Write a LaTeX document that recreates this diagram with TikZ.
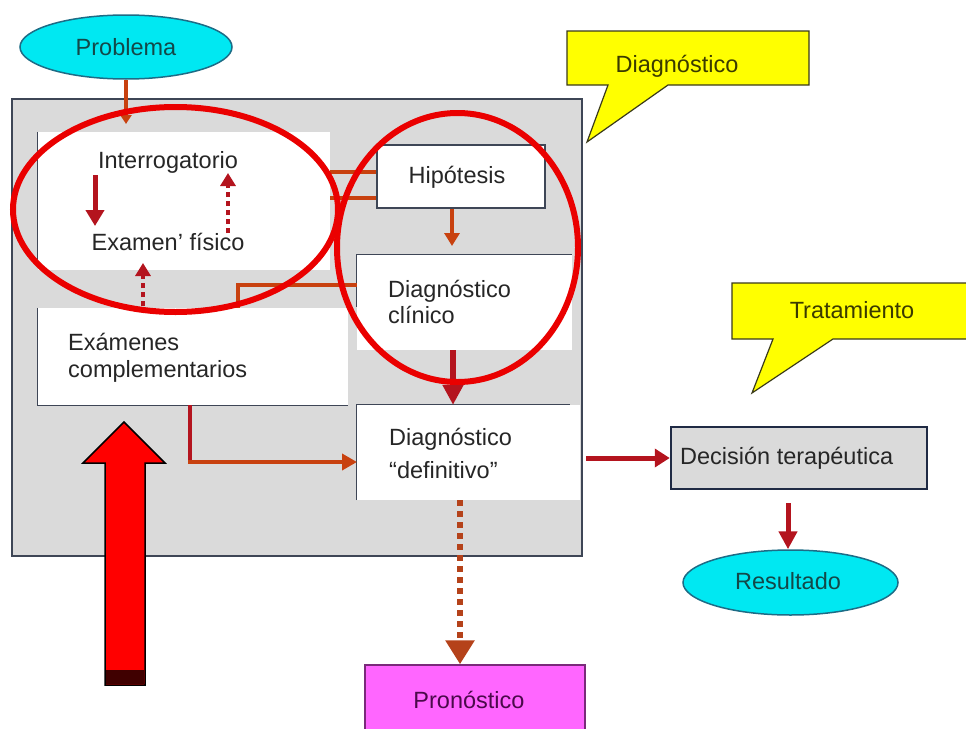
\documentclass[tikz,border=0pt]{standalone}
\usepackage{fontspec}
\setmainfont{Liberation Sans}
\usetikzlibrary{arrows.meta,shapes.geometric,calc}
\definecolor{bggray}{HTML}{DADADA}
\definecolor{bord}{HTML}{3E4656}
\definecolor{cdark}{HTML}{B4141E}
\definecolor{corange}{HTML}{C8410F}
\definecolor{cdot}{HTML}{B5421A}
\definecolor{hilite}{HTML}{EA0000}
\definecolor{cyanf}{HTML}{00E8F2}
\definecolor{cyanb}{HTML}{1D6C86}
\definecolor{cyantxt}{HTML}{134848}
\definecolor{yelf}{HTML}{FFFF00}
\definecolor{yelb}{HTML}{3A3A1A}
\definecolor{yeltxt}{HTML}{3A3A00}
\definecolor{magf}{HTML}{FF66FF}
\definecolor{magb}{HTML}{7A2A7A}
\definecolor{magtxt}{HTML}{4B0A4B}
\definecolor{txt}{HTML}{262626}
\definecolor{decb}{HTML}{1F2A44}
\begin{document}
\begin{tikzpicture}[x=1pt,y=-1pt,font=\fontsize{23.5}{27}\selectfont,
  lbl/.style={inner sep=0pt,text=txt},
  area/.style={inner sep=0pt,fill=white},
  edge/.style={draw=bord,line width=1.2pt},
  conn/.style={line width=#1},
  tipA/.style={-{Triangle[width=17pt,length=15pt]}},
  dots/.style={dash pattern=on 5pt off 4pt}
]
\useasboundingbox (0,0) rectangle (966,728);

% main gray frame
\node[draw=bord,fill=bggray,line width=1.2pt,minimum width=570pt,minimum height=457pt,inner sep=0pt] (main) at (297,327.5) {};

% white areas
\node[area,minimum width=292pt,minimum height=138pt] (ibox) at (184,201) {};
\node[area,minimum width=310pt,minimum height=97pt] (xbox) at (193,356.5) {};
\node[area,minimum width=215pt,minimum height=95pt] (cbox) at (464.5,302.5) {};
\node[area,minimum width=223pt,minimum height=95pt] (dbox) at (468.5,452.5) {};
\node[area,draw=bord,line width=1.5pt,minimum width=168pt,minimum height=63pt] (hip) at (461,176.5) {};

\draw[edge] (ibox.north west) -- ($(ibox.south west)+(0,-10)$);
\draw[edge] (xbox.north west) -- (xbox.south west) -- (xbox.south east);
\draw[edge] ($(cbox.north west)+(0,52)$) -- (cbox.north west) -- (cbox.north east);
\draw[edge] (dbox.south west) -- (dbox.north west) -- ($(dbox.north east)+(-10,0)$);

% texts in frame
\node[lbl,anchor=base] (interro) at (168,168) {Interrogatorio};
\node[lbl,anchor=base] (examen) at (168,250) {Examen' físico};
\node[lbl,anchor=base west,align=left] (examenes) at (68,350) {Exámenes};
\node[lbl,anchor=base west] (complem) at (68,377) {complementarios};
\node[lbl,anchor=base] (hiptxt) at (457,183) {Hipótesis};
\node[lbl,anchor=base west] (clin1) at (388,297) {Diagnóstico};
\node[lbl,anchor=base west] (clin2) at (388,323) {clínico};
\node[lbl,anchor=base west] (def1) at (389,445) {Diagnóstico};
\node[lbl,anchor=base west] (def2) at (389,478) {“definitivo”};

% outside shapes
\node[ellipse,draw=cyanb,fill=cyanf,line width=1.5pt,minimum width=212pt,minimum height=64pt,inner sep=0pt] (prob) at (126,47) {};
\node[lbl,anchor=base,text=cyantxt] (probtxt) at (126,55) {Problema};

\node[ellipse,draw=cyanb,fill=cyanf,line width=1.5pt,minimum width=215pt,minimum height=65pt,inner sep=0pt] (res) at (790.5,582.5) {};
\node[lbl,anchor=base,text=cyantxt] (restxt) at (788,589) {Resultado};

\node[draw=decb,fill=bggray,line width=2.5pt,minimum width=256pt,minimum height=62pt,inner sep=0pt] (dec) at (799,458) {};
\node[lbl,anchor=base west] (dectxt) at (680,464) {Decisión terapéutica};

\node[draw=magb,fill=magf,line width=1.5pt,minimum width=220pt,minimum height=70pt,inner sep=0pt] (pron) at (475,700) {};
\node[lbl,anchor=base,text=magtxt] (prontxt) at (469,708) {Pronóstico};

% callouts
\filldraw[fill=yelf,draw=yelb,line width=1.2pt] (567,31) -- (809,31) -- (809,85) -- (668,85) -- (587,142) -- (608,85) -- (567,85) -- cycle;
\node[lbl,anchor=base,text=yeltxt] (cdiag) at (677,72) {Diagnóstico};
\filldraw[fill=yelf,draw=yelb,line width=1.2pt] (732,283) -- (972,283) -- (972,339) -- (833,339) -- (752,393) -- (773,339) -- (732,339) -- cycle;
\node[lbl,anchor=base,text=yeltxt] (ctrat) at (852,318) {Tratamiento};

% connector end points
\coordinate (pin) at (126,124);
\coordinate (i1) at (95,175);
\coordinate (e1) at (95,226);
\coordinate (e2) at (228,233);
\coordinate (i2) at (228,173);
\coordinate (x1) at (143,306);
\coordinate (e3) at (143,263);
\coordinate (h1) at ($(hip.west)+(0,-5)$);
\coordinate (h2) at ($(hip.west)+(0,21)$);
\coordinate (ih1) at (330,172);
\coordinate (ih2) at (330,198);
\coordinate (cl) at (357,285);
\coordinate (xtop) at (238,308);
\coordinate (xb) at (190,405);
\coordinate (dl) at (357,462);
\coordinate (dbot) at (460,500);
\coordinate (dr) at (586,458);

% connectors
\draw[corange,line width=4pt,-{Triangle[width=11pt,length=9pt]}] (prob.south) -- (pin);
\draw[cdark,line width=5pt,-{Triangle[width=18pt,length=16pt]}] (i1) -- (e1);
\draw[cdark,line width=4pt,dots,-{Triangle[width=15pt,length=13pt]}] (e2) -- (i2);
\draw[cdark,line width=4pt,dots,-{Triangle[width=15pt,length=13pt]}] (x1) -- (e3);
\draw[corange,line width=4pt] (ih1) -- (ih1 -| hip.west);
\draw[corange,line width=4pt] (ih2) -- (ih2 -| hip.west);
\draw[corange,line width=4pt,-{Triangle[width=15pt,length=13pt]}] (hip.south -| 452,0) -- (452,246);
\draw[corange,line width=4pt] (cl) -- (cl -| xtop) -- (xtop);
\draw[cdark,line width=6pt,-{Triangle[width=20pt,length=20pt]}] (cbox.south -| 453,0) -- (dbox.north -| 453,0);
\draw[cdark,line width=4.5pt] (xb) -- (190,462);
\draw[corange,line width=4.5pt,-{Triangle[width=16pt,length=15pt]}] (188,462) -- (dl);
\draw[cdot,line width=6pt,dash pattern=on 6pt off 5pt,-{Triangle[width=28pt,length=24pt]}] (dbot) -- (pron.north -| dbot);
\draw[cdark,line width=5pt,-{Triangle[width=18pt,length=15pt]}] (dr) -- (dec.west);
\draw[cdark,line width=5pt,-{Triangle[width=18pt,length=18pt]}] (788,503) -- (res.north -| 788,0);

% big block arrow
\filldraw[fill=red,draw=black,line width=1.5pt,line join=miter] (105,685) -- (105,463) -- (83,463) -- (124,422) -- (165,463) -- (145,463) -- (145,685) -- cycle;
\fill[fill=black!75!red] (105.8,670) rectangle (144.2,684.2);

% red highlight ellipses
\draw[hilite,line width=6pt] (175.5,209.5) ellipse [x radius=162.5pt, y radius=102.5pt];
\draw[hilite,line width=6pt] (457.5,247.5) ellipse [x radius=120.5pt, y radius=134.5pt];
\end{tikzpicture}
\end{document}
